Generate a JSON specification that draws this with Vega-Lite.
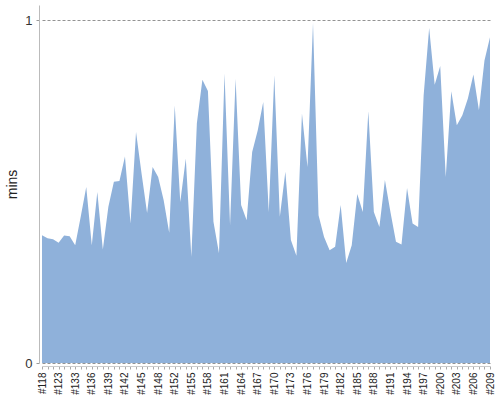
{
  "$schema": "https://vega.github.io/schema/vega-lite/v6.json",
  "autosize": "none",
  "padding": {"left": 42, "top": 5, "right": 10, "bottom": 37},
  "width": 448,
  "height": 358,
  "background": "white",
  "data": {
    "values": [
      {"game": "#118", "mins": 0.373}, {"game": "#120", "mins": 0.364}, {"game": "#121", "mins": 0.361},
      {"game": "#123", "mins": 0.351}, {"game": "#126", "mins": 0.372}, {"game": "#130", "mins": 0.37},
      {"game": "#133", "mins": 0.344}, {"game": "#134", "mins": 0.427}, {"game": "#135", "mins": 0.514},
      {"game": "#136", "mins": 0.344}, {"game": "#137", "mins": 0.499}, {"game": "#138", "mins": 0.331},
      {"game": "#139", "mins": 0.456}, {"game": "#140", "mins": 0.529}, {"game": "#141", "mins": 0.531},
      {"game": "#142", "mins": 0.603}, {"game": "#143", "mins": 0.407}, {"game": "#144", "mins": 0.674},
      {"game": "#145", "mins": 0.553}, {"game": "#146", "mins": 0.438}, {"game": "#147", "mins": 0.572},
      {"game": "#148", "mins": 0.543}, {"game": "#149", "mins": 0.475}, {"game": "#150", "mins": 0.38},
      {"game": "#152", "mins": 0.752}, {"game": "#153", "mins": 0.47}, {"game": "#154", "mins": 0.597},
      {"game": "#155", "mins": 0.31}, {"game": "#156", "mins": 0.7}, {"game": "#157", "mins": 0.827},
      {"game": "#158", "mins": 0.794}, {"game": "#159", "mins": 0.412}, {"game": "#160", "mins": 0.32},
      {"game": "#161", "mins": 0.845}, {"game": "#162", "mins": 0.402}, {"game": "#163", "mins": 0.83},
      {"game": "#164", "mins": 0.461}, {"game": "#165", "mins": 0.417}, {"game": "#166", "mins": 0.616},
      {"game": "#167", "mins": 0.679}, {"game": "#168", "mins": 0.762}, {"game": "#169", "mins": 0.441},
      {"game": "#170", "mins": 0.84}, {"game": "#171", "mins": 0.427}, {"game": "#172", "mins": 0.558},
      {"game": "#173", "mins": 0.359}, {"game": "#174", "mins": 0.313}, {"game": "#175", "mins": 0.728},
      {"game": "#176", "mins": 0.572}, {"game": "#177", "mins": 0.993}, {"game": "#178", "mins": 0.431},
      {"game": "#179", "mins": 0.368}, {"game": "#180", "mins": 0.329}, {"game": "#181", "mins": 0.339},
      {"game": "#182", "mins": 0.461}, {"game": "#183", "mins": 0.292}, {"game": "#184", "mins": 0.344},
      {"game": "#185", "mins": 0.493}, {"game": "#186", "mins": 0.441}, {"game": "#187", "mins": 0.735},
      {"game": "#188", "mins": 0.441}, {"game": "#189", "mins": 0.397}, {"game": "#190", "mins": 0.534},
      {"game": "#191", "mins": 0.441}, {"game": "#192", "mins": 0.354}, {"game": "#193", "mins": 0.346},
      {"game": "#194", "mins": 0.511}, {"game": "#195", "mins": 0.407}, {"game": "#196", "mins": 0.397},
      {"game": "#197", "mins": 0.781}, {"game": "#198", "mins": 0.978}, {"game": "#199", "mins": 0.812},
      {"game": "#200", "mins": 0.867}, {"game": "#201", "mins": 0.543}, {"game": "#202", "mins": 0.793},
      {"game": "#203", "mins": 0.694}, {"game": "#204", "mins": 0.723}, {"game": "#205", "mins": 0.772},
      {"game": "#206", "mins": 0.842}, {"game": "#207", "mins": 0.738}, {"game": "#208", "mins": 0.883},
      {"game": "#209", "mins": 0.951}
    ]
  },
  "mark": {"type": "area", "color": "#8fb1da", "opacity": 1},
  "encoding": {
    "x": {
      "field": "game",
      "type": "nominal",
      "sort": null,
      "scale": {"type": "point", "padding": 0},
      "axis": {
        "title": null,
        "offset": 3,
        "labelAngle": -90,
        "labelAlign": "right",
        "labelBaseline": "middle",
        "labelFont": "Liberation Sans",
        "labelFontSize": 10,
        "labelColor": "#222",
        "labelPadding": 3,
        "labelOverlap": false,
        "labelExpr": "indexof(['#118','#123','#133','#136','#139','#142','#145','#148','#152','#155','#158','#161','#164','#167','#170','#173','#176','#179','#182','#185','#188','#191','#194','#197','#200','#203','#206','#209'], datum.value) >= 0 ? datum.value : ''",
        "tickSize": 3,
        "tickColor": "#aaa",
        "domainColor": "#ccc",
        "grid": false
      }
    },
    "y": {
      "field": "mins",
      "type": "quantitative",
      "scale": {"domain": [0, 1.045], "nice": false, "zero": true},
      "axis": {
        "title": "mins",
        "titleFont": "Liberation Sans",
        "titleFontSize": 14,
        "titleFontWeight": "normal",
        "titleColor": "#222",
        "titlePadding": 5,
        "values": [0, 1],
        "format": "d",
        "offset": 3,
        "labelFont": "Liberation Sans",
        "labelFontSize": 13,
        "labelColor": "#333",
        "labelPadding": 4,
        "tickSize": 3,
        "tickColor": "#999",
        "domainColor": "#bbb",
        "grid": true,
        "gridColor": "#777",
        "gridDash": [3, 2],
        "gridWidth": 0.8
      }
    }
  },
  "config": {"view": {"stroke": null}}
}
